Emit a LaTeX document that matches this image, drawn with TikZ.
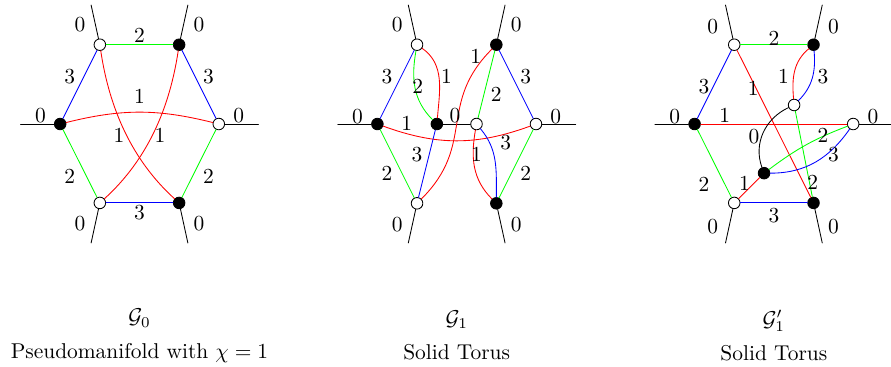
\documentclass[tikz,border=0pt]{standalone}
\begin{document}
\begin{tikzpicture}[x=1.3cm, y=1.3cm, line cap=round, line join=round,
  wv/.style={circle, draw, fill=white, inner sep=0pt, minimum size=5.4pt},
  bv/.style={circle, draw, fill=black, inner sep=0pt, minimum size=5.4pt},
  caption/.style={align=center}]
  \useasboundingbox (-1.759,-3.064) rectangle (9.477,1.564);

  % G_0
  \node[wv] (A1) at (-0.5,1) {};
  \node[bv] (A2) at (0.5,1) {};
  \node[wv] (A3) at (1,0) {};
  \node[bv] (A4) at (0.5,-0.995) {};
  \node[wv] (A5) at (-0.5,-0.995) {};
  \node[bv] (A6) at (-1,0) {};
  \coordinate (A1o) at (-0.61,1.5);
  \coordinate (A2o) at (0.61,1.5);
  \coordinate (A3o) at (1.5,0);
  \coordinate (A4o) at (0.61,-1.5);
  \coordinate (A5o) at (-0.61,-1.5);
  \coordinate (A6o) at (-1.5,0);
  \draw (A1) -- (A1o);
  \draw (A2) -- (A2o);
  \draw (A3) -- (A3o);
  \draw (A4) -- (A4o);
  \draw (A5) -- (A5o);
  \draw (A6) -- (A6o);
  \draw[green] (A1) -- (A2);
  \draw[blue] (A2) -- (A3);
  \draw[green] (A3) -- (A4);
  \draw[blue] (A4) -- (A5);
  \draw[green] (A5) -- (A6);
  \draw[blue] (A6) -- (A1);
  \draw[red] (A6) to[bend left=14] (A3);
  \draw[red] (A1) .. controls (-0.38,0.2) and (-0.1,-0.45) .. (A4);
  \draw[red] (A2) .. controls (0.38,0.2) and (0.1,-0.45) .. (A5);
  \node (a1) at (-0.75,1.25) {$0$};
  \node (a2) at (0.75,1.25) {$0$};
  \node (a3) at (1.25,0.1) {$0$};
  \node (a4) at (0.75,-1.25) {$0$};
  \node (a5) at (-0.75,-1.25) {$0$};
  \node (a6) at (-1.25,0.1) {$0$};
  \node (a7) at (0,1.11) {$2$};
  \node (a8) at (-0.88,0.6) {$3$};
  \node (a9) at (0.87,0.6) {$3$};
  \node (a10) at (-0.88,-0.66) {$2$};
  \node (a11) at (0.87,-0.66) {$2$};
  \node (a12) at (0,-1.12) {$3$};
  \node (a13) at (0,0.34) {$1$};
  \node (a14) at (-0.26,-0.15) {$1$};
  \node (a15) at (0.26,-0.15) {$1$};
  \node[caption] (capA) at (0,-2.67) {$\mathcal{G}_0$\\[4pt] Pseudomanifold with $\chi=1$};

  % G_1
  \begin{scope}[shift={(4,0)}]
  \node[wv] (B1) at (-0.5,1) {};
  \node[bv] (B2) at (0.5,1) {};
  \node[wv] (B3) at (1,0) {};
  \node[bv] (B4) at (0.5,-1) {};
  \node[wv] (B5) at (-0.5,-1) {};
  \node[bv] (B6) at (-1,0) {};
  \node[bv] (B7) at (-0.25,0) {};
  \node[wv] (B8) at (0.25,0) {};
  \coordinate (B1o) at (-0.61,1.5);
  \coordinate (B2o) at (0.61,1.5);
  \coordinate (B3o) at (1.5,0);
  \coordinate (B4o) at (0.61,-1.5);
  \coordinate (B5o) at (-0.61,-1.5);
  \coordinate (B6o) at (-1.5,0);
  \draw (B1) -- (B1o);
  \draw (B2) -- (B2o);
  \draw (B3) -- (B3o);
  \draw (B4) -- (B4o);
  \draw (B5) -- (B5o);
  \draw (B6) -- (B6o);
  \draw[blue] (B6) -- (B1);
  \draw[green] (B6) -- (B5);
  \draw[green] (B1) to[out=-100,in=135] (B7);
  \draw[red] (B1) to[out=-35,in=85] (B7);
  \draw (B7) -- (B8);
  \draw[red] (B6) to[bend right=20] (B3);
  \draw[blue] (B7) -- (B5);
  \draw[red] (B5) to[out=45,in=-135,looseness=1.2] (B2);
  \draw[green] (B2) -- (B8);
  \draw[blue] (B2) -- (B3);
  \draw[green] (B3) -- (B4);
  \draw[red] (B8) to[out=-100,in=135] (B4);
  \draw[blue] (B8) to[out=-50,in=90] (B4);
  \node (b1) at (-0.75,1.25) {$0$};
  \node (b2) at (0.75,1.25) {$0$};
  \node (b3) at (1.25,0.09) {$0$};
  \node (b4) at (0.75,-1.27) {$0$};
  \node (b5) at (-0.75,-1.27) {$0$};
  \node (b6) at (-1.25,0.09) {$0$};
  \node (b7) at (-0.88,0.6) {$3$};
  \node (b8) at (-0.88,-0.62) {$2$};
  \node (b9) at (-0.49,0.47) {$2$};
  \node (b10) at (-0.13,0.6) {$1$};
  \node (b11) at (-0.02,0.11) {$0$};
  \node (b12) at (-0.63,0) {$1$};
  \node (b13) at (-0.5,-0.39) {$3$};
  \node (b14) at (0.24,0.85) {$1$};
  \node (b15) at (0.5,0.37) {$2$};
  \node (b16) at (0.87,0.6) {$3$};
  \node (b17) at (0.25,-0.39) {$1$};
  \node (b18) at (0.62,-0.24) {$3$};
  \node (b19) at (0.87,-0.62) {$2$};
  \node[caption] (capB) at (0,-2.67) {$\mathcal{G}_1$\\[4pt] Solid Torus};
  \end{scope}

  % G_1'
  \begin{scope}[shift={(8,0)}]
  \node[wv] (C1) at (-0.5,1) {};
  \node[bv] (C2) at (0.5,1) {};
  \node[wv] (C3) at (1,0) {};
  \node[bv] (C4) at (0.5,-0.995) {};
  \node[wv] (C5) at (-0.5,-0.995) {};
  \node[bv] (C6) at (-1,0) {};
  \node[bv] (C7) at (-0.124,-0.62) {};
  \node[wv] (C8) at (0.255,0.24) {};
  \coordinate (C1o) at (-0.61,1.5);
  \coordinate (C2o) at (0.61,1.5);
  \coordinate (C3o) at (1.5,0);
  \coordinate (C4o) at (0.61,-1.5);
  \coordinate (C5o) at (-0.61,-1.5);
  \coordinate (C6o) at (-1.5,0);
  \draw (C1) -- (C1o);
  \draw (C2) -- (C2o);
  \draw (C3) -- (C3o);
  \draw (C4) -- (C4o);
  \draw (C5) -- (C5o);
  \draw (C6) -- (C6o);
  \draw[green] (C1) -- (C2);
  \draw[blue] (C1) -- (C6);
  \draw[green] (C6) -- (C5);
  \draw[blue] (C5) -- (C4);
  \draw[red] (C6) -- (C3);
  \draw[red] (C1) -- (C4);
  \draw[red] (C2) to[out=-140,in=95] (C8);
  \draw[blue] (C2) to[out=-85,in=45] (C8);
  \draw[green] (C8) -- (C4);
  \draw (C8) to[out=-155,in=110] (C7);
  \draw[green] (C7) to[bend left=8] (C3);
  \draw[blue] (C7) to[out=0,in=-125] (C3);
  \draw[red] (C7) -- (C5);
  \node (c1) at (-0.77,1.23) {$0$};
  \node (c2) at (0.75,1.23) {$0$};
  \node (c3) at (1.25,0.09) {$0$};
  \node (c4) at (0.75,-1.29) {$0$};
  \node (c5) at (-0.77,-1.29) {$0$};
  \node (c6) at (-1.25,0.09) {$0$};
  \node (c7) at (0,1.08) {$2$};
  \node (c8) at (-0.88,0.47) {$3$};
  \node (c9) at (-0.62,0.1) {$1$};
  \node (c10) at (-0.26,0.45) {$1$};
  \node (c11) at (0.12,0.6) {$1$};
  \node (c12) at (0.62,0.6) {$3$};
  \node (c13) at (-0.25,-0.16) {$0$};
  \node (c14) at (0.62,-0.14) {$2$};
  \node (c15) at (0.75,-0.39) {$3$};
  \node (c16) at (-0.88,-0.77) {$2$};
  \node (c17) at (-0.37,-0.75) {$1$};
  \node (c18) at (0.49,-0.74) {$2$};
  \node (c19) at (0,-1.15) {$3$};
  \node[caption] (capC) at (0,-2.67) {$\mathcal{G}_1'$\\[4pt] Solid Torus};
  \end{scope}
\end{tikzpicture}
\end{document}
